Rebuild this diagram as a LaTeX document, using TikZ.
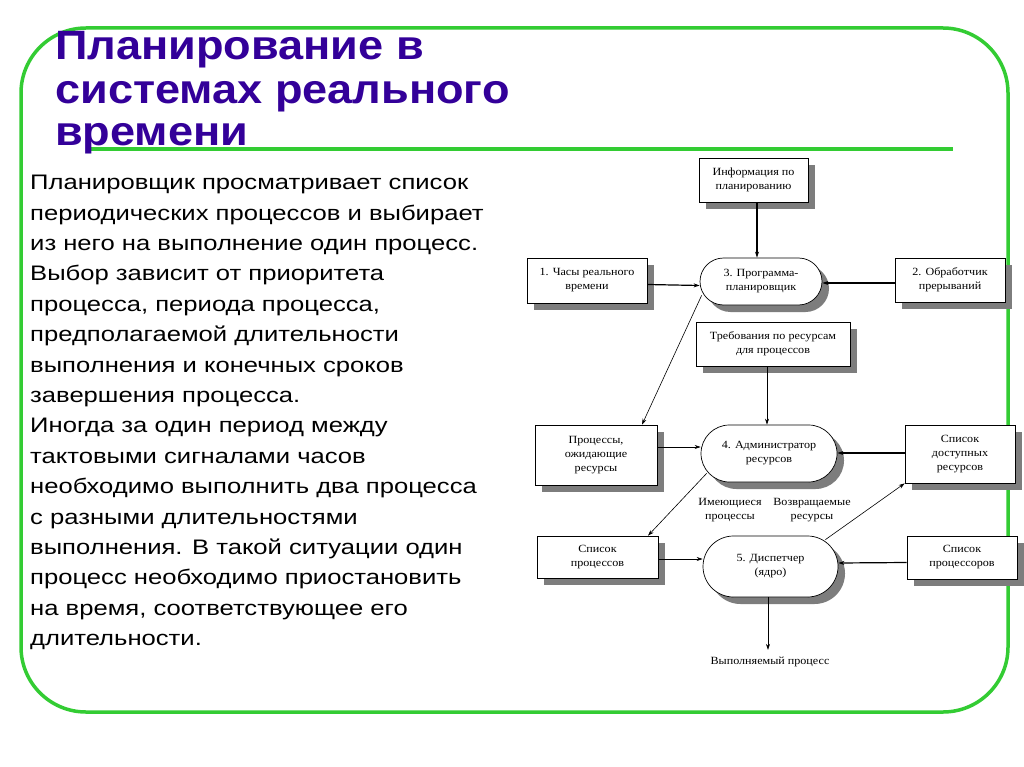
\documentclass[tikz,border=0pt]{standalone}
\usepackage{fontspec}
\setmainfont{Liberation Sans}
\newfontfamily\titlefont[FakeStretch=1.1]{Liberation Sans}
\newfontfamily\bodyfont[FakeStretch=1.22]{Liberation Sans}
\newfontfamily\diagfont[FakeStretch=1.1]{Liberation Serif}
\usetikzlibrary{shadows,arrows.meta,calc}
\definecolor{bordergreen}{RGB}{51,204,51}
\definecolor{titleblue}{RGB}{51,0,153}
\definecolor{shadowgray}{RGB}{125,125,125}
\begin{document}
\begin{tikzpicture}[x=1pt,y=-1pt,
  box/.style={draw=black, fill=white, line width=0.7pt, align=center, inner sep=0pt,
    font=\diagfont\fontsize{11}{14}\selectfont,
    drop shadow={shadow xshift=7pt, shadow yshift=-7pt, fill=shadowgray, opacity=1}},
  stad/.style={box, rounded corners=#1},
  lbl/.style={align=center, inner sep=0pt, font=\diagfont\fontsize{11}{14}\selectfont},
  arr/.style={-{Stealth[length=6pt,width=4pt]}, line width=0.6pt},
  tharr/.style={arr, line width=1.2pt},
  titleline/.style={anchor=base west, inner sep=0pt, text=titleblue,
    font=\titlefont\bfseries\fontsize{41}{44}\selectfont}]
\useasboundingbox (0,0) rectangle (1024,767);
\fill[white] (0,0) rectangle (1024,767);
% border
\draw[bordergreen, line width=3.5pt, rounded corners=65pt] (21,28) rectangle (1008,712);
\draw[bordergreen, line width=4pt] (88,149) -- (953,149);
% title
\node[titleline] (t1) at (55,60) {Планирование в};
\node[titleline] (t2) at (55,104) {системах реального};
\node[titleline] (t3) at (55,146) {времени};
% body text
\node[anchor=north west, align=left, inner sep=0pt,
  font=\bodyfont\fontsize{21}{30.4}\selectfont] (body) at (30,175) {Планировщик просматривает список\\
периодических процессов и выбирает\\
из него на выполнение один процесс.\\
Выбор зависит от приоритета\\
процесса, периода процесса,\\
предполагаемой длительности\\
выполнения и конечных сроков\\
завершения процесса.\\
Иногда за один период между\\
тактовыми сигналами часов\\
необходимо выполнить два процесса\\
с разными длительностями\\
выполнения. В такой ситуации один\\
процесс необходимо приостановить\\
на время, соответствующее его\\
длительности.};
% diagram nodes
\node[box, minimum width=109pt, minimum height=44pt] (info) at (753.5,180) {Информация по\\планированию};
\node[box, minimum width=120pt, minimum height=45pt] (clock) at (587,280.5) {1. Часы реального\\времени};
\node[stad=23.5pt, minimum width=122pt, minimum height=47pt] (sched) at (761,281.5) {3. Программа-\\планировщик};
\node[box, minimum width=110pt, minimum height=44pt] (intr) at (950,280) {2. Обработчик\\прерываний};
\node[box, minimum width=154pt, minimum height=44pt] (req) at (773,344) {Требования по ресурсам\\для процессов};
\node[box, minimum width=122pt, minimum height=60pt] (wait) at (596,455) {Процессы,\\ожидающие\\ресурсы};
\node[stad=28.5pt, minimum width=136pt, minimum height=57pt] (admin) at (769,453.5) {4. Администратор\\ресурсов};
\node[box, minimum width=110pt, minimum height=58pt] (avail) at (960,454) {Список\\доступных\\ресурсов};
\node[box, minimum width=121pt, minimum height=42pt] (plist) at (597.5,557) {Список\\процессов};
\node[stad=30.5pt, minimum width=135pt, minimum height=61pt] (disp) at (770.5,566.5) {5. Диспетчер\\(ядро)};
\node[box, minimum width=110pt, minimum height=43pt] (cpus) at (962,557.5) {Список\\процессоров};
\node[lbl] (has) at (730,510) {Имеющиеся\\процессы};
\node[lbl] (ret) at (812,510) {Возвращаемые\\ресурсы};
\node[lbl] (out) at (770,662) {Выполняемый процесс};
% connectors
\draw[tharr] ($(info.south)+(3.5,0)$) -- ($(sched.north)+(-4,0)$);
\draw[tharr] ($(clock.east)+(0,4)$) -- ($(sched.west)+(0,4)$);
\draw[tharr] ($(intr.west)+(0,3)$) -- ($(sched.east)+(0,1.5)$);
\draw[arr] ($(sched.south west)+(2,-10)$) -- ($(wait.north)!0.75!(wait.north east)$);
\draw[arr] ($(req.south)+(-6,0)$) -- ($(admin.north)+(-2,0)$);
\draw[arr] ($(wait.east)+(0,-8)$) -- ($(admin.west)+(0,-6.5)$);
\draw[tharr] ($(avail.west)+(0,-1)$) -- ($(admin.east)+(0,-0.5)$);
\draw[arr] ($(admin.south west)+(6,-9)$) -- ($(plist.north)!0.83!(plist.north east)$);
\draw[arr] ($(disp.north east)+(-13,4)$) -- (avail.south west);
\draw[arr] ($(plist.east)+(0,2)$) -- ($(disp.west)+(0,-7.5)$);
\draw[tharr] ($(cpus.west)+(0,5)$) -- ($(disp.east)+(0,-3.5)$);
\draw[arr] ($(disp.south)+(-2.5,0)$) -- ($(out.north)+(-2,-7)$);
\end{tikzpicture}
\end{document}
